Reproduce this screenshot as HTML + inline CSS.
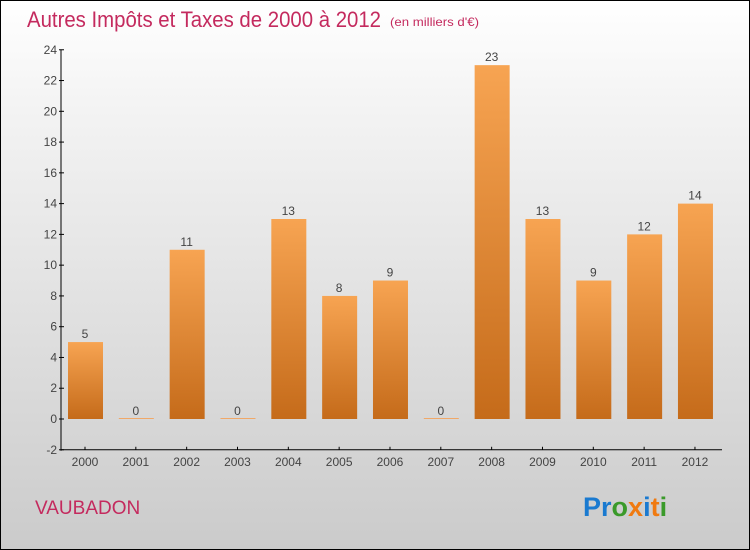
<!DOCTYPE html>
<html><head><meta charset="utf-8"><style>
body{margin:0}
#c{position:relative;width:748px;height:548px;border:1px solid #000;background:linear-gradient(#fff,#f3f3f3 20%,#cbcbcb);font-family:"Liberation Sans",sans-serif;overflow:hidden}
</style></head><body>
<div id="c">
<svg id="s" width="748" height="548">
<defs><linearGradient id="g" x1="0" y1="0" x2="0" y2="1"><stop offset="0" stop-color="#f7a452"/><stop offset="1" stop-color="#c56b1a"/></linearGradient></defs>
<text x="26" y="26" font-size="22" fill="#c42a5e" textLength="354" lengthAdjust="spacingAndGlyphs">Autres Impôts et Taxes de 2000 à 2012</text>
<text x="389" y="25" font-size="12" fill="#c42a5e" textLength="89" lengthAdjust="spacingAndGlyphs">(en milliers d'€)</text>
<text x="34" y="513" font-size="19" fill="#c42a5e">VAUBADON</text>
<text x="582" y="515" font-size="27" font-weight="bold"><tspan fill="#1a7ad0">Pr</tspan><tspan fill="#3a9a2a">o</tspan><tspan fill="#f07a10">x</tspan><tspan fill="#1a7ad0">i</tspan><tspan fill="#f07a10">t</tspan><tspan fill="#3a9a2a">i</tspan></text>
</svg>
</div>
<script>
const years=["2000","2001","2002","2003","2004","2005","2006","2007","2008","2009","2010","2011","2012"];
const values=[5,0,11,0,13,8,9,0,23,13,9,12,14];
const yTicks=[-2,0,2,4,6,8,10,12,14,16,18,20,22,24];
const s=document.getElementById('s');const NS='http://www.w3.org/2000/svg';
const y=v=>419-(v)*(400/26)-1;
const x=i=>84+i*50.83;
function mk(t,a,txt){const e=document.createElementNS(NS,t);for(const k in a)e.setAttribute(k,a[k]);if(txt!==undefined)e.textContent=txt;s.appendChild(e);return e;}
const ya=mk('line',{x1:60,y1:y(24),x2:60,y2:y(-2)+1,stroke:'#000'});

const xa=mk('line',{x1:60,y1:y(-2),x2:721,y2:y(-2),stroke:'#000'});

yTicks.forEach(v=>{mk('line',{x1:58,x2:63,y1:y(v),y2:y(v),stroke:'#000'});
const t=mk('text',{x:56,y:y(v)+4,'font-size':12,fill:'#444','text-anchor':'end'},String(v));
});
years.forEach((yr,i)=>{const cx=x(i);
mk('line',{x1:cx,x2:cx,y1:y(-2)-3,y2:y(-2),stroke:'#000'});
const t=mk('text',{x:cx,y:y(-2)+16,'font-size':12,fill:'#444','text-anchor':'middle'},yr);

const v=values[i];const top=y(v);const h=Math.max(y(0)-top,1);
const b=mk('rect',{x:cx-17,y:v>0?top:y(0)-1,width:35,height:h,fill:v>0?'url(#g)':'#f0a868'});

const l=mk('text',{x:cx,y:(v>0?top:y(0))-4,'font-size':12,fill:'#444','text-anchor':'middle'},String(v));
});
</script>
</body></html>
